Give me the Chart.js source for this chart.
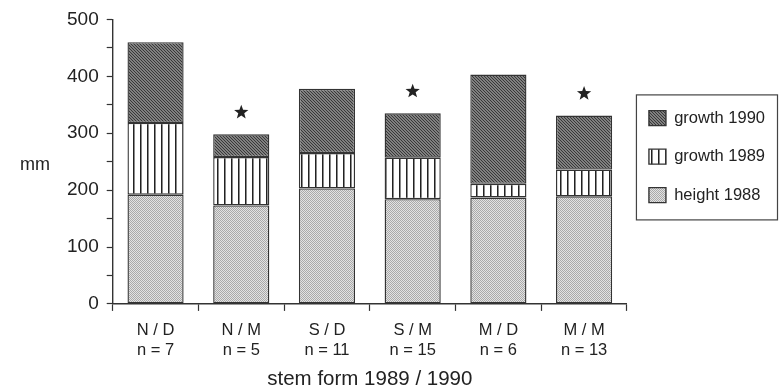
<!DOCTYPE html>
<html>
<head>
<meta charset="utf-8">
<script src="https://cdn.jsdelivr.net/npm/chart.js@4"></script>
<style>
  body { margin: 0; background: #fff; }
  #wrap { width: 780px; height: 391px; position: relative; }
</style>
</head>
<body>
<div id="wrap"><canvas id="chart"></canvas></div>
<script>
// stem form classes and sample sizes
const stemForms = ['N / D', 'N / M', 'S / D', 'S / M', 'M / D', 'M / M'];
const sampleSizes = [7, 5, 11, 15, 6, 13];

// mm, stacked from the ground up
const height1988 = [192, 173, 203, 184, 187, 189];
const growth1989 = [126, 85, 62, 73, 24, 47];
const growth1990 = [142, 40, 113, 78, 192, 95];

// star = significant difference
const significant = [false, true, false, true, false, true];

const yTicks = [0, 100, 200, 300, 400, 500];

const FONT = "'Liberation Sans', Arial, Helvetica, sans-serif";
const INK = '#222';

function makePattern(w, h, paint) {
    const c = document.createElement('canvas');
    c.width = w;
    c.height = h;
    paint(c.getContext('2d'));
    return document.getElementById('chart').getContext('2d').createPattern(c, 'repeat');
}

// light stipple
const lightFill = makePattern(2, 2, g => {
    g.fillStyle = '#e2e2e2'; g.fillRect(0, 0, 2, 2);
    g.fillStyle = '#a9a9a9'; g.fillRect(0, 0, 1, 1); g.fillRect(1, 1, 1, 1);
});

// vertical bars
const stripeFill = makePattern(7, 1, g => {
    g.fillStyle = '#fff'; g.fillRect(0, 0, 7, 1);
    g.fillStyle = '#222'; g.fillRect(0, 0, 1, 1);
    g.fillStyle = '#8a8a8a'; g.fillRect(1, 0, 1, 1);
});

// dark stipple
const darkFill = makePattern(3, 3, g => {
    g.fillStyle = '#808080'; g.fillRect(0, 0, 3, 3);
    g.fillStyle = '#383838';
    g.fillRect(0, 0, 1, 1); g.fillRect(1, 1, 1, 1); g.fillRect(2, 2, 1, 1);
});

function drawStar(ctx, cx, cy, r) {
    ctx.beginPath();
    for (let i = 0; i < 10; i++) {
        const rad = i % 2 === 0 ? r : r * 0.42;
        const a = -Math.PI / 2 + i * Math.PI / 5;
        ctx.lineTo(cx + rad * Math.cos(a), cy + rad * Math.sin(a));
    }
    ctx.closePath();
    ctx.fill();
}

const extras = {
    id: 'extras',
    afterLayout(chart) {
        // the legend sits a little above the middle of the plot
        const lg = chart.legend;
        lg.top = chart.chartArea.top - 5;
        lg.bottom = chart.chartArea.bottom - 5;
    },
    afterDatasetsDraw(chart) {
        const ctx = chart.ctx;
        const top = chart.getDatasetMeta(2);
        ctx.save();
        ctx.fillStyle = INK;
        significant.forEach((sig, i) => {
            if (!sig) return;
            const bar = top.data[i];
            drawStar(ctx, bar.x, bar.y - 22, 7.5);
        });
        ctx.restore();
    },
    afterDraw(chart) {
        const ctx = chart.ctx;
        const y = chart.scales.y;
        const area = chart.chartArea;
        ctx.save();
        // horizontal unit label
        ctx.fillStyle = INK;
        ctx.font = '18px ' + FONT;
        ctx.textAlign = 'right';
        ctx.textBaseline = 'middle';
        ctx.fillText('mm', y.left - 9, (area.top + area.bottom) / 2 + 3);
        // frame round the legend
        const hb = chart.legend.legendHitBoxes;
        if (hb && hb.length) {
            const last = hb[hb.length - 1];
            const l = hb[0].left - 13;
            const t = hb[0].top - 15.5;
            const b = last.top + last.height + 16;
            ctx.strokeStyle = '#444';
            ctx.lineWidth = 1.2;
            ctx.strokeRect(l + 0.5, t + 0.5, chart.width - 3 - l, b - t);
        }
        ctx.restore();
    }
};

const barStyle = {
    borderColor: '#333',
    borderWidth: 1.4,
    borderSkipped: false,
    categoryPercentage: 1,
    barPercentage: 0.655
};

new Chart(document.getElementById('chart'), {
    type: 'bar',
    data: {
        labels: stemForms.map((s, i) => [s, 'n = ' + sampleSizes[i]]),
        datasets: [
            { label: 'height 1988', data: height1988, backgroundColor: lightFill, ...barStyle },
            { label: 'growth 1989', data: growth1989, backgroundColor: stripeFill, ...barStyle },
            { label: 'growth 1990', data: growth1990, backgroundColor: darkFill, ...barStyle }
        ]
    },
    options: {
        responsive: true,
        maintainAspectRatio: false,
        animation: false,
        layout: { padding: { left: 59, right: 5, top: 7, bottom: 1 } },
        plugins: {
            tooltip: { enabled: false },
            legend: {
                position: 'right',
                fullSize: false,
                reverse: true,
                labels: {
                    boxWidth: 17,
                    boxHeight: 15,
                    padding: 22,
                    color: INK,
                    font: { family: FONT, size: 16.5 }
                }
            }
        },
        scales: {
            x: {
                stacked: true,
                border: { display: true, color: '#333', width: 1.4 },
                grid: { drawOnChartArea: false, tickLength: 7, color: '#333', tickWidth: 1.2 },
                ticks: { color: INK, padding: 10, font: { family: FONT, size: 16.5, lineHeight: 1.2 }, maxRotation: 0 },
                title: {
                    display: true,
                    text: 'stem form 1989 / 1990',
                    color: INK,
                    font: { family: FONT, size: 20.5, lineHeight: 1 },
                    padding: { top: -1, bottom: 0 }
                }
            },
            y: {
                stacked: true,
                min: 0,
                max: 500,
                border: { display: true, color: '#333', width: 1.4 },
                grid: { drawOnChartArea: false, tickLength: 6, color: '#333', tickWidth: 1.2 },
                ticks: {
                    stepSize: 50,
                    padding: 8,
                    color: INK,
                    font: { family: FONT, size: 19 },
                    callback: v => yTicks.includes(v) ? v : ''
                }
            }
        }
    },
    plugins: [extras]
});
</script>
</body>
</html>
